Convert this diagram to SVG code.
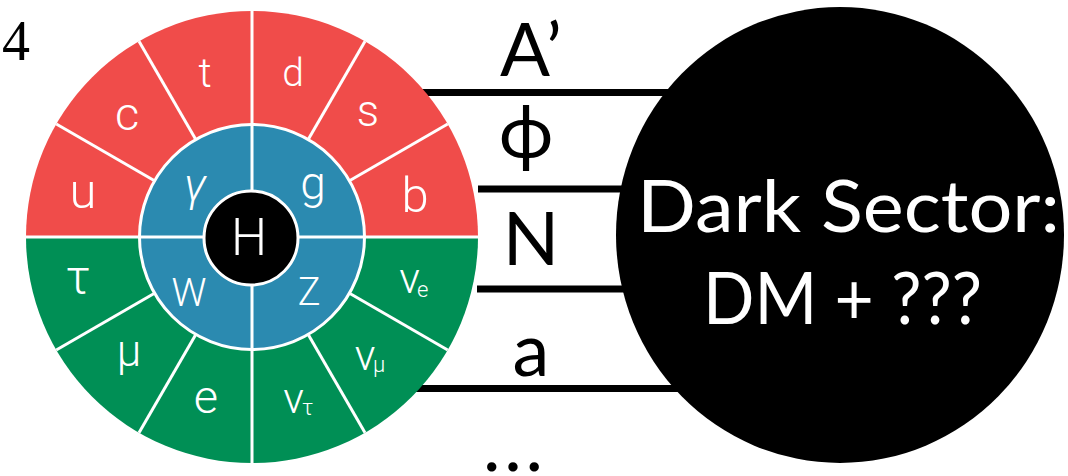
<svg xmlns="http://www.w3.org/2000/svg" width="1068" height="476" viewBox="0 0 1068 476">
  <style>
    .quark { fill: #F04C4A; }
    .lepton { fill: #008F55; }
    .boson { fill: #2B8AB0; stroke: #FFFFFF; stroke-width: 3; }
    .divider { stroke: #FFFFFF; stroke-width: 3; fill: none; }
    .p { fill: #FFFFFF; font-family: Roboto, "Open Sans", "Liberation Sans", sans-serif; font-weight: 300; text-anchor: middle; }
    .sub { fill: #FFFFFF; font-family: Roboto, "Open Sans", "Liberation Sans", sans-serif; font-weight: 300; font-size: 22px; }
    .link { stroke: #000000; stroke-width: 7; fill: none; }
    .med { fill: #000000; font-family: Lato, "Open Sans", "DejaVu Sans", sans-serif; font-size: 74px; }
    .dark { fill: #FFFFFF; font-family: Lato, "Open Sans", "DejaVu Sans", sans-serif; font-size: 72px; }
  </style>

  <rect x="0" y="0" width="1068" height="476" fill="#FFFFFF"/>

  <!-- page number -->
  <text x="2" y="60" font-family="'Liberation Serif', serif" font-size="56" fill="#000000">4</text>

  <!-- mediator lines between the two sectors -->
  <g id="connectors">
    <line class="link" x1="420" y1="92.5" x2="700" y2="92.5"/>
    <line class="link" x1="478" y1="189" x2="700" y2="189"/>
    <line class="link" x1="477" y1="289" x2="700" y2="289"/>
    <line class="link" x1="416" y1="388.5" x2="700" y2="388.5"/>
  </g>

  <!-- Standard Model wheel -->
  <g id="standard-model">
    <path class="quark" d="M26 237 A226 226 0 0 1 478 237 Z"/>
    <path class="lepton" d="M26 237 A226 226 0 0 0 478 237 Z"/>
    <circle class="boson" cx="252" cy="237" r="112.5"/>
    <g class="divider">
      <line x1="252" y1="11" x2="252" y2="463"/>
      <line x1="26" y1="237" x2="478" y2="237"/>
      <line x1="349.9" y1="180.5" x2="447.7" y2="124"/>
      <line x1="308.5" y1="139.1" x2="365" y2="41.3"/>
      <line x1="195.5" y1="139.1" x2="139" y2="41.3"/>
      <line x1="154.1" y1="180.5" x2="56.3" y2="124"/>
      <line x1="154.1" y1="293.5" x2="56.3" y2="350"/>
      <line x1="195.5" y1="334.9" x2="139" y2="432.7"/>
      <line x1="308.5" y1="334.9" x2="365" y2="432.7"/>
      <line x1="349.9" y1="293.5" x2="447.7" y2="350"/>
    </g>

    <!-- quarks -->
    <g id="quarks">
      <text class="p" x="83" y="208" font-size="49">u</text>
      <text class="p" x="127" y="130" font-size="47">c</text>
      <text class="p" x="205" y="87" font-size="41">t</text>
      <text class="p" x="293" y="86" font-size="39">d</text>
      <text class="p" x="368" y="126" font-size="44">s</text>
      <text class="p" x="415" y="212" font-size="49">b</text>
    </g>

    <!-- leptons -->
    <g id="leptons">
      <text class="p" x="78" y="294" font-size="48">τ</text>
      <text class="p" x="129" y="366" font-size="44">μ</text>
      <text class="p" x="206" y="413" font-size="47">e</text>
      <text class="p" x="293.5" y="413" font-size="43">ν</text>
      <text class="sub" x="302" y="415">τ</text>
      <text class="p" x="365" y="370" font-size="43">ν</text>
      <text class="sub" x="373" y="372">μ</text>
      <text class="p" x="409.5" y="293" font-size="43">ν</text>
      <text class="sub" x="417" y="297">e</text>
    </g>

    <!-- gauge bosons -->
    <g id="gauge-bosons">
      <text class="p" x="195" y="201" font-size="46" font-style="italic">γ</text>
      <text class="p" x="313" y="199" font-size="46">g</text>
      <text class="p" x="189" y="306" font-size="39">W</text>
      <text class="p" x="309" y="305" font-size="38">Z</text>
    </g>

    <!-- Higgs -->
    <g id="higgs">
      <circle cx="251" cy="238" r="47" fill="#000000" stroke="#FFFFFF" stroke-width="3"/>
      <text class="p" x="249" y="255" font-size="51">H</text>
    </g>
  </g>

  <!-- Dark sector -->
  <g id="dark-sector">
    <ellipse cx="840" cy="235" rx="224" ry="228" fill="#000000"/>
    <text class="dark" x="637" y="232" textLength="423" lengthAdjust="spacingAndGlyphs">Dark Sector:</text>
    <text class="dark" x="703" y="324" textLength="279" lengthAdjust="spacingAndGlyphs">DM + ???</text>
  </g>

  <!-- mediator labels -->
  <g id="mediators">
    <text class="med" x="500" y="76">A’</text>
    <text class="med" x="526" y="158" text-anchor="middle" font-size="70">ϕ</text>
    <text class="med" x="531" y="265" text-anchor="middle">N</text>
    <text class="med" x="531" y="376" text-anchor="middle">a</text>
    <text class="med" x="483" y="471" textLength="60" lengthAdjust="spacing">...</text>
  </g>
</svg>
